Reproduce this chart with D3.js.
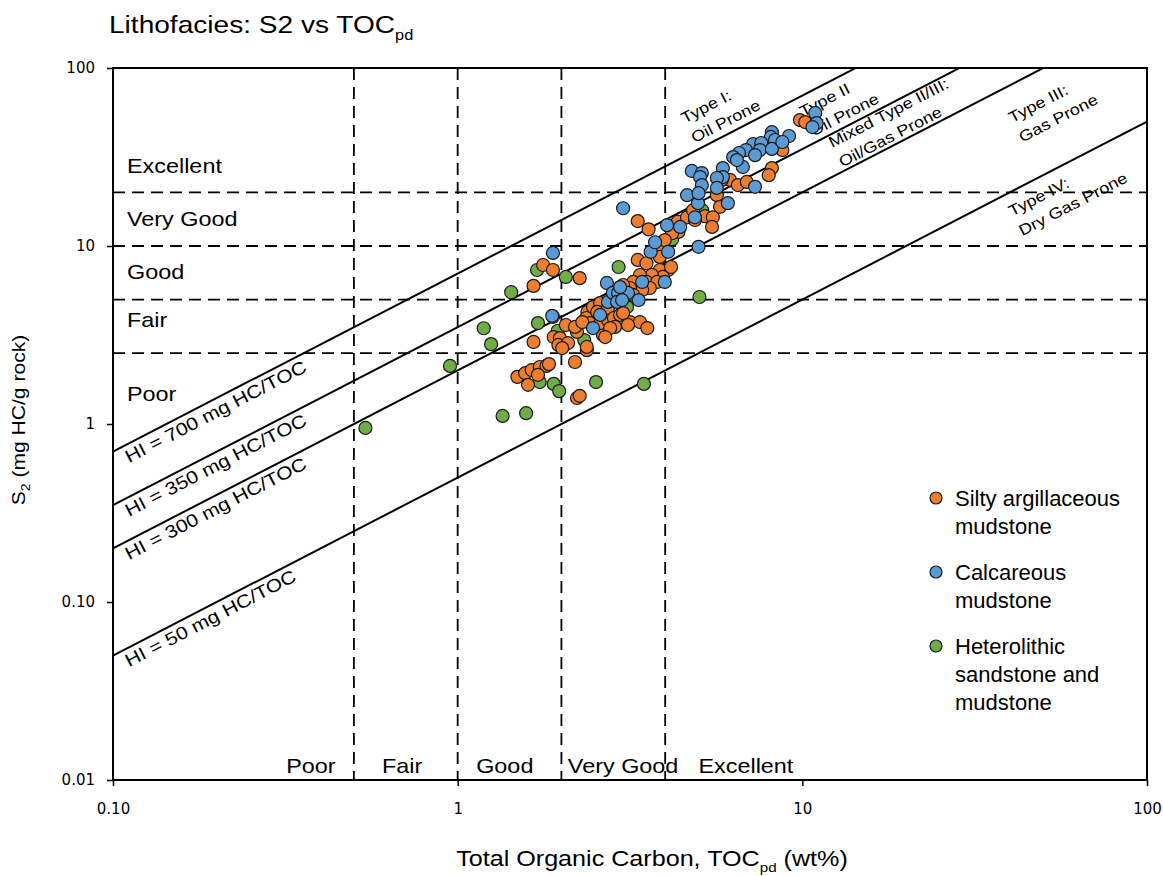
<!DOCTYPE html>
<html>
<head>
<meta charset="utf-8">
<script src="https://cdn.jsdelivr.net/npm/d3@7"></script>
<style>
  body { margin: 0; background: #fff; }
  text { font-family: "Liberation Sans", Arial, sans-serif; fill: #000; }
  .tick text { font-family: "DejaVu Sans", Verdana, sans-serif; font-size: 15px; }
</style>
</head>
<body>
<svg id="chart" width="1163" height="876"></svg>
<script>
// ---- Data: [TOC (wt%), S2 (mg HC/g rock)] ----
const silty = [
  [1.77,7.82],[1.89,7.33],[1.66,5.97],[2.26,6.6],[1.66,2.89],[1.90,3.08],[1.98,3.04],[1.96,2.78],
  [2.09,2.85],[2.01,2.67],[2.06,3.60],[2.22,3.29],[2.19,3.51],[2.37,2.60],[2.19,2.23],[1.49,1.84],
  [1.57,1.93],[1.64,2.01],[1.73,2.09],[1.81,2.12],[1.84,2.17],[1.60,1.66],[1.71,1.89],[2.22,1.40],
  [2.26,1.44],[2.38,4.26],[2.47,4.54],[2.54,3.84],[2.64,3.16],[2.36,3.94],[2.42,3.69],[2.59,3.69],
  [2.73,3.84],[2.30,3.74],[1.89,4.0],
  [3.33,8.35],[3.53,8.0],[3.86,9.14],[4.08,7.33],[3.86,7.33],[3.94,6.70],[3.66,6.87],[3.38,6.87],
  [3.23,6.28],[3.53,6.28],[3.79,6.28],[3.61,5.81],[3.43,5.66],[3.16,5.81],[3.02,6.04],[2.96,5.52],
  [3.06,5.31],[3.23,5.31],[2.59,4.78],[2.54,4.26],[2.73,4.48],[2.84,3.94],[2.96,4.10],[2.86,3.51],
  [2.77,3.46],[2.68,3.08],[3.16,3.74],[3.38,3.74],[3.55,3.46],[3.02,4.2],[2.37,2.71],[3.12,3.60],
  [3.33,13.8],[3.58,12.4],[4.35,13.7],[4.63,14.5],[4.37,12.0],[4.19,11.8],[3.86,10.1],[3.99,10.8],
  [3.86,8.68],[4.16,7.62],
  [9.84,51],[10.2,49.7],[8.75,34.6],[8.16,27.4],[7.99,25],[6.17,23.5],[5.84,23.5],[6.5,22.0],
  [6.9,22.9],[5.65,19.3],[5.77,16.6],[4.82,15.9],[5.22,14.7],[5.5,14.5],[4.88,14.0],[5.47,12.8]
];
const calcareous = [
  [1.89,9.14],[1.88,4.05],[3.02,16.3],[4.78,26.4],[2.71,6.2],[2.59,4.10],[2.47,3.46],[2.73,4.85],
  [2.82,5.45],[2.92,5.45],[2.90,4.85],[3.12,5.45],[3.35,4.97],[3.43,6.28],[3.99,6.28],[3.63,9.28],
  [4.08,9.28],[4.05,13.1],[4.42,12.8],[3.74,10.5],[4.63,19.3],[4.98,17.4],[4.88,14.5],[5.0,9.9],
  [10.9,55.9],[11.0,49],[10.7,46.6],[8.16,43.6],[8.1,41],[9.15,41.5],[8.33,39.4],[7.2,37.4],
  [7.6,37.9],[7.53,34.6],[8.16,35.1],[6.86,34.6],[6.55,33.3],[6.3,31.6],[6.72,27.8],[5.88,27.4],
  [5.88,24.4],[5.65,24.1],[5.11,25.7],[5.05,24.4],[5.11,22],[5.65,21.2],[5.0,19.8],[7.29,21.5],
  [6.08,17.4],[8.75,38.4],[7.29,32.4],[6.46,30.4],[2.96,5.88],[3.0,4.97]
];
const heterolithic = [
  [0.54,0.95],[0.95,2.12],[1.19,3.45],[1.25,2.81],[1.43,5.5],[1.35,1.11],[1.58,1.15],[1.70,7.33],
  [1.71,3.69],[1.73,1.72],[1.90,1.68],[1.97,1.53],[2.06,6.7],[1.95,3.33],[2.33,2.96],[2.52,1.72],
  [2.93,7.62],[5.03,5.17],[3.47,1.68],[3.0,3.74],[3.10,4.54],[5.12,15.9],[4.19,10.9]
];

const seriesNames = [["Silty argillaceous", "mudstone"], ["Calcareous", "mudstone"], ["Heterolithic", "sandstone and", "mudstone"]];
const seriesColors = ["#ED7D31", "#5B9BD5", "#70AD47"];

// Hydrogen index reference lines (mg HC/g TOC) and their captions
const hiValues = [700, 350, 200, 50];
const hiLabels = ["HI = 700 mg HC/TOC", "HI = 350 mg HC/TOC", "HI = 300 mg HC/TOC", "HI = 50 mg HC/TOC"];
const kerogenLabels = [["Type I:", "Oil Prone"], ["Type II", "Oil Prone"], ["Mixed Type II/III:", "Oil/Gas Prone"], ["Type III:", "Gas Prone"], ["Type IV:", "Dry Gas Prone"]];

// Source-rock quality class boundaries
const tocBounds = [0.5, 1, 2, 4];
const s2Bounds = [2.5, 5, 10, 20];
const qualityNames = ["Poor", "Fair", "Good", "Very Good", "Excellent"];

const xTickValues = [0.1, 1, 10, 100];
const xTickLabels = ["0.10", "1", "10", "100"];
const yTickValues = [0.01, 0.1, 1, 10, 100];
const yTickLabels = ["0.01", "0.10", "1", "10", "100"];

// ---- Layout ----
const svg = d3.select("#chart");
const L = 113, T = 68, R = 1147, B = 780;
const x = d3.scaleLog().domain([0.1, 100]).range([L, R]);
const y = d3.scaleLog().domain([0.01, 100]).range([B, T]);
const angle = Math.atan2(y(10) - y(1), x(10) - x(1)) * 180 / Math.PI;
const WIDE = 1.17; // horizontal stretch used by the annotation text boxes

// Text placed at (px,py), optionally rotated, with a horizontal stretch
function label(px, py, opts) {
  const o = Object.assign({ rot: 0, sx: WIDE, size: 20, anchor: "start" }, opts);
  const g = svg.append("g").attr("transform", `translate(${px},${py}) rotate(${o.rot}) scale(${o.sx},1)`);
  return g.append("text").attr("text-anchor", o.anchor).style("font-size", o.size + "px");
}

svg.append("defs").append("clipPath").attr("id", "plotClip")
  .append("rect").attr("x", L).attr("y", T).attr("width", R - L).attr("height", B - T);

// Title
const title = label(109, 33, { size: 24 });
title.append("tspan").text("Lithofacies: S2 vs TOC");
title.append("tspan").attr("dy", 7).style("font-size", "14px").text("pd");

// Dashed class boundaries
const grid = svg.append("g").attr("clip-path", "url(#plotClip)")
  .attr("stroke", "#000").attr("stroke-width", 1.8).attr("stroke-dasharray", "12,7");
grid.selectAll("line.v").data(tocBounds).join("line").attr("class", "v")
  .attr("x1", d => x(d)).attr("x2", d => x(d)).attr("y1", T).attr("y2", B);
grid.selectAll("line.h").data(s2Bounds).join("line").attr("class", "h")
  .attr("x1", L).attr("x2", R).attr("y1", d => y(d)).attr("y2", d => y(d));

// HI lines: S2 = HI/100 * TOC
const hiG = svg.append("g").attr("clip-path", "url(#plotClip)");
hiG.selectAll("line").data(hiValues).join("line")
  .attr("stroke", "#000").attr("stroke-width", 2)
  .attr("x1", x(0.1)).attr("y1", d => y(d / 100 * 0.1))
  .attr("x2", x(100)).attr("y2", d => y(d / 100 * 100));

// HI captions, laid along each line
hiValues.forEach((hi, i) => {
  const px = 129;
  const py = y(hi / 100 * x.invert(px)) + 20;
  label(px, py, { rot: angle, size: 18 }).text(hiLabels[i]);
});

// Kerogen type captions
const kerogenAnchors = [[4.55, 48.6], [10.04, 52.9], [12.2, 35.5], [40.6, 49.0], [40.6, 14.6]];
kerogenLabels.forEach((lines, i) => {
  const t = label(x(kerogenAnchors[i][0]), y(kerogenAnchors[i][1]), { rot: angle, size: 15.5 });
  lines.forEach((s, j) => t.append("tspan").attr("x", 0).attr("y", j * 22).text(s));
});

// Quality class names along the left (S2) and bottom (TOC)
const s2NamePos = [1.35, 3.51, 6.53, 12.9, 25.7];
qualityNames.forEach((n, i) => label(127, y(s2NamePos[i]), { size: 20 }).text(n));
const tocNamePos = [0.375, 0.69, 1.37, 3.02, 6.86];
qualityNames.forEach((n, i) => label(x(tocNamePos[i]), 773, { size: 20, anchor: "middle" }).text(n));

// Scatter series: heterolithic first, then silty, then calcareous on top
const drawOrder = [2, 0, 1];
const allSeries = [silty, calcareous, heterolithic];
drawOrder.forEach(si => {
  svg.append("g").selectAll("circle").data(allSeries[si]).join("circle")
    .attr("cx", d => x(d[0])).attr("cy", d => y(d[1])).attr("r", 6.5)
    .attr("fill", seriesColors[si]).attr("stroke", "#1a1a1a").attr("stroke-width", 1.2);
});

// Axes
const xAxis = d3.axisBottom(x).tickValues(xTickValues).tickFormat((d, i) => xTickLabels[i]).tickSizeOuter(0).tickSize(6).tickPadding(17);
const yAxis = d3.axisLeft(y).tickValues(yTickValues).tickFormat((d, i) => yTickLabels[i]).tickSizeOuter(0).tickSize(6).tickPadding(12);
const gx = svg.append("g").attr("transform", `translate(0,${B})`).call(xAxis);
const gy = svg.append("g").attr("transform", `translate(${L},0)`).call(yAxis);
[gx, gy].forEach(g => {
  g.select(".domain").remove();
  g.selectAll(".tick line").attr("stroke", "#000").attr("stroke-width", 1.5);
});

// Plot frame
svg.append("rect").attr("x", L).attr("y", T).attr("width", R - L).attr("height", B - T)
  .attr("fill", "none").attr("stroke", "#000").attr("stroke-width", 2);

// Axis titles
const xt = label(652, 866, { size: 21.5, anchor: "middle" });
xt.append("tspan").text("Total Organic Carbon, TOC");
xt.append("tspan").attr("dy", 6).style("font-size", "13px").text("pd");
xt.append("tspan").attr("dy", -6).text(" (wt%)");

const yt = label(25, 420, { rot: -90, size: 18, anchor: "middle" });
yt.append("tspan").text("S");
yt.append("tspan").attr("dy", 5).style("font-size", "12px").text("2");
yt.append("tspan").attr("dy", -5).text(" (mg HC/g rock)");

// Legend
const legendY = [498, 572, 646];
seriesNames.forEach((lines, i) => {
  svg.append("circle").attr("cx", 936).attr("cy", legendY[i]).attr("r", 6)
    .attr("fill", seriesColors[i]).attr("stroke", "#1a1a1a").attr("stroke-width", 1.2);
  const t = svg.append("text").attr("x", 955).attr("y", legendY[i] + 8).style("font-size", "22px");
  lines.forEach((s, j) => t.append("tspan").attr("x", 955).attr("dy", j === 0 ? 0 : 28).text(s));
});
</script>
</body>
</html>
